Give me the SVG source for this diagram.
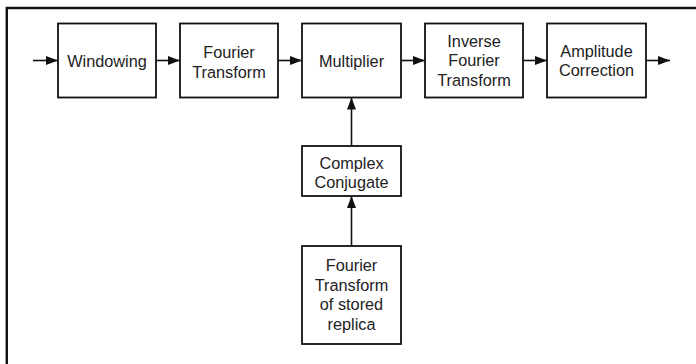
<svg xmlns="http://www.w3.org/2000/svg" width="696" height="364" viewBox="0 0 696 364">
<style>
.box{fill:#fff;stroke:#111;stroke-width:1.8}
.t{font-family:"Liberation Sans",Arial,sans-serif;font-size:16.3px;fill:#222;text-anchor:middle}
.c{stroke:#111;stroke-width:1.6;fill:none;marker-end:url(#ah)}
</style>
<defs>
<marker id="ah" markerUnits="userSpaceOnUse" markerWidth="13" markerHeight="10" refX="12" refY="5" orient="auto">
<path d="M0,0.5 L12,5 L0,9.5 Z" fill="#111"/>
</marker>
</defs>
<rect width="696" height="364" fill="#fff"/>
<path d="M6.8,364 V8 H696" fill="none" stroke="#111" stroke-width="2.4"/>
<g id="connectors">
<line class="c" x1="33" y1="60.5" x2="58" y2="60.5"/>
<line class="c" x1="156" y1="60.5" x2="180" y2="60.5"/>
<line class="c" x1="278" y1="60.5" x2="302" y2="60.5"/>
<line class="c" x1="400" y1="60.5" x2="425" y2="60.5"/>
<line class="c" x1="523" y1="60.5" x2="547" y2="60.5"/>
<line class="c" x1="646" y1="60.5" x2="670" y2="60.5"/>
<line class="c" x1="351.5" y1="146" x2="351.5" y2="97.5"/>
<line class="c" x1="351.5" y1="246" x2="351.5" y2="196"/>
</g>
<g id="windowing">
<rect class="box" x="58" y="23.5" width="98" height="74"/>
<text class="t" x="107" y="66.5">Windowing</text>
</g>
<g id="fourier">
<rect class="box" x="180" y="23.5" width="98" height="74"/>
<text class="t" x="229" y="58">Fourier</text>
<text class="t" x="229" y="77.5">Transform</text>
</g>
<g id="multiplier">
<rect class="box" x="302" y="23.5" width="99" height="74"/>
<text class="t" x="351.5" y="67">Multiplier</text>
</g>
<g id="inverse">
<rect class="box" x="425" y="23.5" width="98" height="74"/>
<text class="t" x="474" y="46.5">Inverse</text>
<text class="t" x="474" y="66">Fourier</text>
<text class="t" x="474" y="85.5">Transform</text>
</g>
<g id="amplitude">
<rect class="box" x="547" y="23.5" width="99" height="74"/>
<text class="t" x="596.5" y="56.5">Amplitude</text>
<text class="t" x="596.5" y="76">Correction</text>
</g>
<g id="conjugate">
<rect class="box" x="302" y="146" width="99" height="50"/>
<text class="t" x="351.5" y="168.5">Complex</text>
<text class="t" x="351.5" y="188">Conjugate</text>
</g>
<g id="stored">
<rect class="box" x="302" y="246" width="99" height="98"/>
<text class="t" x="351.5" y="271">Fourier</text>
<text class="t" x="351.5" y="290.5">Transform</text>
<text class="t" x="351.5" y="310">of stored</text>
<text class="t" x="351.5" y="329.5">replica</text>
</g>
</svg>
